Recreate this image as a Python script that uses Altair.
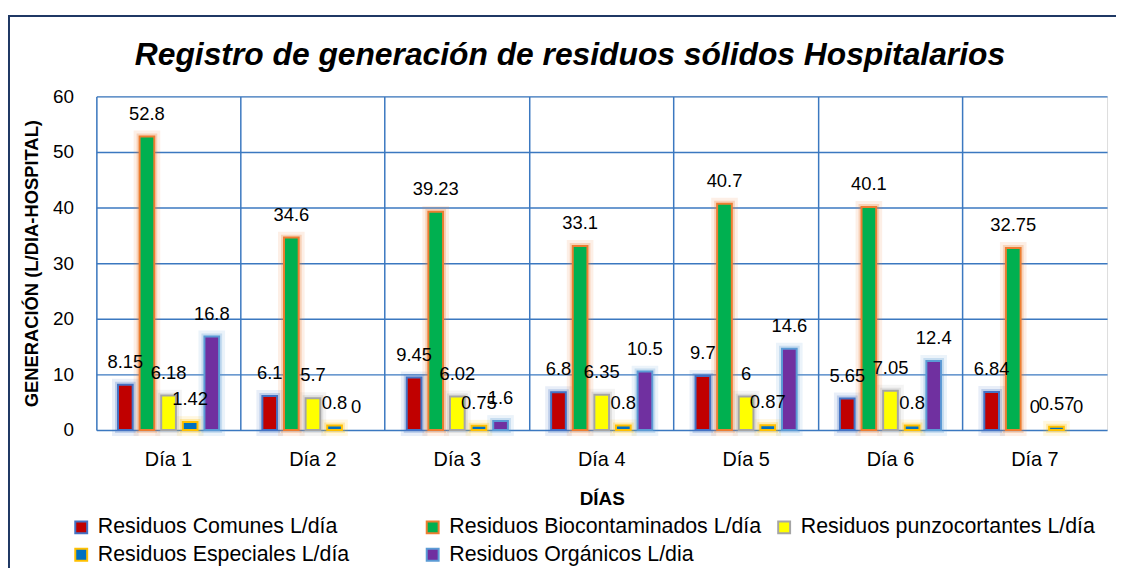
import altair as alt
import pandas as pd

dias = ["Día 1", "Día 2", "Día 3", "Día 4", "Día 5", "Día 6", "Día 7"]
series = [
    "Residuos Comunes L/día",
    "Residuos Biocontaminados L/día",
    "Residuos punzocortantes L/día",
    "Residuos Especiales L/día",
    "Residuos Orgánicos L/dia",
]
comunes = [8.15, 6.1, 9.45, 6.8, 9.7, 5.65, 6.84]
biocontaminados = [52.8, 34.6, 39.23, 33.1, 40.7, 40.1, 32.75]
punzocortantes = [6.18, 5.7, 6.02, 6.35, 6, 7.05, 0]
especiales = [1.42, 0.8, 0.75, 0.8, 0.87, 0.8, 0.57]
organicos = [16.8, 0, 1.6, 10.5, 14.6, 12.4, 0]

fills = ["#C00000", "#00B050", "#FFFF00", "#0070C0", "#7030A0"]
strokes = ["#4472C4", "#ED7D31", "#A5A5A5", "#FFC000", "#5B9BD5"]

rows = []
for s, vals in zip(series, [comunes, biocontaminados, punzocortantes, especiales, organicos]):
    for d, v in zip(dias, vals):
        rows.append({"dia": d, "serie": s, "valor": v})
df = pd.DataFrame(rows)

GRID = "#3B78C0"
FONT = "Liberation Sans"

x = alt.X("dia:N", sort=dias, scale=alt.Scale(paddingInner=0, paddingOuter=0),
          axis=alt.Axis(title="DÍAS", labelAngle=0, ticks=False, tickSize=0, domain=False,
                        grid=True, bandPosition=0, gridColor=GRID, gridWidth=1.5,
                        labelFontSize=20, labelFont=FONT, labelColor="#000000",
                        labelPadding=30, labelBaseline="middle",
                        titleFontSize=19, titleFont=FONT, titleFontWeight="bold",
                        titleColor="#000000", titleX=509, titleY=69,
                        titleBaseline="middle", titleAlign="center"))
xo = alt.XOffset("serie:N", sort=series,
                 scale=alt.Scale(paddingInner=0.32, paddingOuter=1))
y = alt.Y("valor:Q", scale=alt.Scale(domain=[0, 60], nice=False),
          axis=alt.Axis(values=[0, 10, 20, 30, 40, 50, 60], ticks=False, tickSize=0,
                        domain=False, grid=True, gridColor=GRID, gridWidth=1.5,
                        labelFontSize=19, labelFont=FONT, labelColor="#000000",
                        labelPadding=23,
                        title="GENERACIÓN  (L/DIA-HOSPITAL)", titleFontSize=18.5,
                        titleFont=FONT, titleFontWeight="bold", titleColor="#000000",
                        titleX=-65, titleY=168, titleAngle=270,
                        titleAlign="center", titleBaseline="middle"))

stroke_scale = alt.Scale(domain=series, range=strokes)
fill_scale = alt.Scale(domain=series, range=fills)

leg = alt.Legend(title=None, orient="none", legendX=-26, legendY=423, columns=3,
                 direction="horizontal",
                 gridAlign="all", columnPadding=12, rowPadding=5,
                 symbolType="square", symbolSize=144, symbolStrokeWidth=2,
                 labelFontSize=21.5, labelFont=FONT, labelColor="#000000",
                 labelOffset=6, labelLimit=400, symbolOpacity=1)

base = alt.Chart(df)

glow_outer = base.mark_bar(fillOpacity=0, strokeWidth=12).encode(
    x=x, xOffset=xo, y=y,
    stroke=alt.Stroke("serie:N", scale=stroke_scale, legend=leg),
    strokeOpacity=alt.condition("datum.valor > 0", alt.value(0.12), alt.value(0)),
)
glow_inner = base.mark_bar(fillOpacity=0, strokeWidth=6).encode(
    x=x, xOffset=xo, y=y,
    stroke=alt.Stroke("serie:N", scale=stroke_scale, legend=leg),
    strokeOpacity=alt.condition("datum.valor > 0", alt.value(0.25), alt.value(0)),
)

bars = base.mark_bar(strokeWidth=2).encode(
    x=x, xOffset=xo, y=y,
    fill=alt.Fill("serie:N", scale=fill_scale, legend=leg),
    stroke=alt.Stroke("serie:N", scale=stroke_scale, legend=leg),
    strokeOpacity=alt.condition("datum.valor > 0", alt.value(1), alt.value(0)),
)

labels = base.mark_text(dy=-23, fontSize=18.5, font=FONT, baseline="middle",
                        align="center", color="#000000").encode(
    x=x, xOffset=xo, y=y,
    text=alt.Text("valor:Q"),
)

frame = alt.Chart(pd.DataFrame({"k": [0]})).mark_rect(
    fillOpacity=0, stroke="#1F3864", strokeWidth=2
).encode(
    x=alt.value(-88), x2=alt.value(1060), y=alt.value(-81), y2=alt.value(500)
)

chart = alt.layer(frame, glow_outer, glow_inner, bars, labels).properties(
    width=1018, height=336,
    title=alt.TitleParams(
        "Registro de generación de residuos sólidos Hospitalarios",
        fontSize=32, fontWeight="bold", fontStyle="italic", font=FONT,
        color="#000000", anchor="middle", frame="group", dx=-32, offset=-89,
        baseline="bottom",
    ),
    autosize=alt.AutoSizeParams(type="none"),
    padding={"left": 89, "top": 87, "right": 9, "bottom": 137},
).configure_view(
    stroke=GRID, strokeWidth=1.5
).configure(background="#FFFFFF")

chart.save("out.html", embed_options={"renderer": "svg", "actions": False})
